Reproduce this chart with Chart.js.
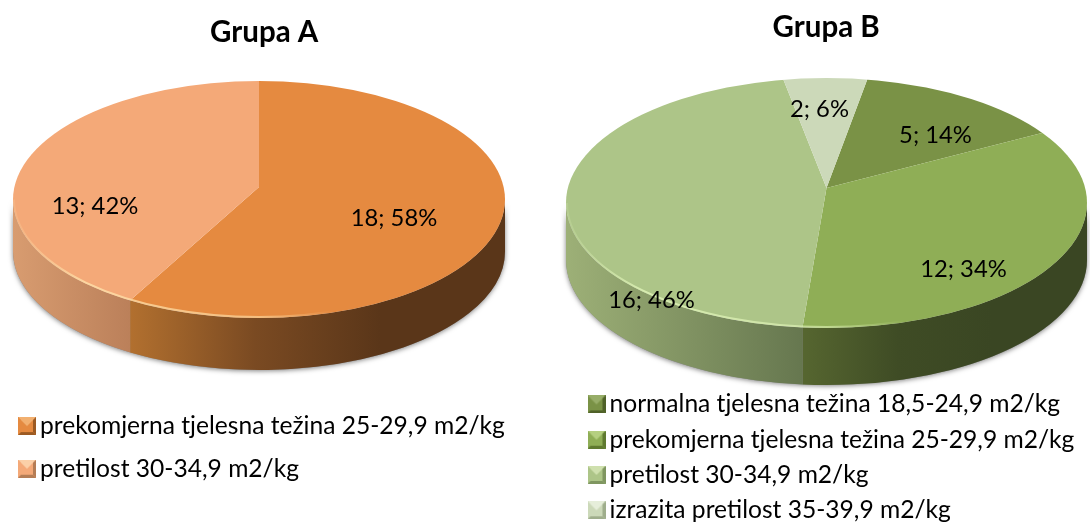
<!DOCTYPE html>
<html>
<head>
<meta charset="utf-8">
<script src="https://cdn.jsdelivr.net/npm/chart.js@4"></script>
<style>
  html, body { margin: 0; background: #fff; overflow: hidden; width: 1090px; height: 523px; }
  canvas { position: absolute; top: 0; }
  #pieA { left: 0; }
  #pieB { left: 545px; }
</style>
</head>
<body>
<canvas id="pieA" width="545" height="540"></canvas>
<canvas id="pieB" width="545" height="540"></canvas>
<script>
const labelsA = ['prekomjerna tjelesna težina 25-29,9 m2/kg', 'pretilost 30-34,9 m2/kg'];
const valuesA = [18, 13];
const colorsA = ['#e58a40', '#f4a978'];

const labelsB = [
  'normalna tjelesna težina 18,5-24,9 m2/kg',
  'prekomjerna tjelesna težina 25-29,9 m2/kg',
  'pretilost 30-34,9 m2/kg',
  'izrazita pretilost 35-39,9 m2/kg',
];
const valuesB = [5, 12, 16, 2];
const colorsB = ['#7a9246', '#8fae56', '#adc588', '#ccd9b9'];

const FONT = 'Lato';

// side wall colours, left to right
const wallsA = [
  ['#b2702f', '#7a4a22', '#5a3619', '#5a3619'],
  ['#d89c70', '#bb805a'],
];
const wallsB = [
  ['#4a5a2a', '#3d4a24'],
  ['#566630', '#3f4c25', '#3a4623', '#3a4623'],
  ['#9db077', '#66774f'],
  ['#ccd9b9', '#ccd9b9'],
];

// where a slice edge leaving the apex meets the outline, as an ellipse angle
function rimAngle(theta, o) {
  const ex = o.sxFront * Math.cos(theta);
  const ey = o.ryFront * Math.sin(theta) / o.re;
  const oy = (o.cy - o.ce) / o.re;
  const A = ex * ex + ey * ey;
  const B = 2 * oy * ey;
  const C = oy * oy - 1;
  const t = (-B + Math.sqrt(B * B - 4 * A * C)) / (2 * A);
  return Math.atan2(oy + t * ey, t * ex);
}

// one half of the disc: slices stay centred on the apex, the outline is a plain ellipse
function halfDisc(chart, ctx, o, rx, y, h, sx, ry) {
  const arc = chart.getDatasetMeta(0).data[0];
  const over = 1.4;
  ctx.beginPath();
  ctx.ellipse(o.cx, o.ce, rx, o.re, 0, 0, Math.PI * 2);
  ctx.clip();
  ctx.beginPath();
  ctx.rect(0, y, chart.width, h);
  ctx.clip();
  ctx.translate(o.cx, o.cy);
  ctx.scale(sx * over, ry / rx * over);
  ctx.translate(-arc.x, -arc.y);
}

const pie3d = {
  id: 'pie3d',
  afterLayout(chart) {
    // legend text runs past the padded box, do not let it get cut
    chart.legend.right = chart.width;
  },
  beforeDatasetsDraw(chart, args, o) {
    const ctx = chart.ctx;
    const arcs = chart.getDatasetMeta(0).data;
    const rx = arcs[0].outerRadius;

    ctx.save();
    ctx.shadowColor = 'rgba(0,0,0,0.5)';
    ctx.shadowBlur = 5;
    ctx.shadowOffsetY = 1;
    ctx.fillStyle = '#888';
    ctx.beginPath();
    ctx.ellipse(o.cx, o.ce, rx, o.re, 0, 0, Math.PI);
    ctx.ellipse(o.cx, o.ce + o.depth, rx, o.re, 0, Math.PI, 0, true);
    ctx.closePath();
    ctx.fill();
    ctx.restore();

    arcs.forEach((arc, i) => {
      [0, 2 * Math.PI].forEach(lo => {
        const s = Math.max(arc.startAngle, lo);
        const e = Math.min(arc.endAngle, lo + Math.PI);
        if (e <= s) return;
        const ps = s === lo ? 0 : Math.max(0, rimAngle(s - lo, o));
        const pe = e === lo + Math.PI ? Math.PI : rimAngle(e - lo, o);
        if (pe <= ps) return;
        const grad = ctx.createLinearGradient(o.cx + rx * Math.cos(pe), 0, o.cx + rx * Math.cos(ps), 0);
        o.walls[i].forEach((c, k, all) => grad.addColorStop(k / (all.length - 1), c));
        ctx.fillStyle = grad;
        ctx.beginPath();
        ctx.ellipse(o.cx, o.ce, rx, o.re, 0, ps, pe);
        ctx.ellipse(o.cx, o.ce + o.depth, rx, o.re, 0, pe, ps, true);
        ctx.closePath();
        ctx.fill();
      });
    });

    // front half is deeper and wider than the back half
    ctx.save();
    halfDisc(chart, ctx, o, rx, o.cy, chart.height, o.sxFront, o.ryFront);
    arcs.forEach(arc => arc.draw(ctx));
    ctx.restore();

    ctx.save();
    halfDisc(chart, ctx, o, rx, 0, o.cy, o.sxBack, o.ryBack);
  },
  afterDatasetsDraw(chart, args, o) {
    const ctx = chart.ctx;
    ctx.restore();
    const arcs = chart.getDatasetMeta(0).data;
    const rx = arcs[0].outerRadius;

    // rim highlight
    const rim = ctx.createLinearGradient(o.cx - rx, 0, o.cx + rx, 0);
    rim.addColorStop(0, o.rim + '0.15)');
    rim.addColorStop(0.15, o.rim + '0.8)');
    rim.addColorStop(0.5, o.rim + '0.6)');
    rim.addColorStop(0.65, o.rim + '0)');
    ctx.strokeStyle = rim;
    ctx.lineWidth = 2;
    ctx.beginPath();
    ctx.ellipse(o.cx, o.ce, rx - 1, o.re - 1, 0, 0, Math.PI);
    ctx.stroke();

    // data labels
    const data = chart.data.datasets[0].data;
    const total = data.reduce((s, v) => s + v, 0);
    ctx.fillStyle = '#000';
    ctx.font = o.labelFont;
    ctx.textAlign = 'center';
    ctx.textBaseline = 'middle';
    data.forEach((v, i) => {
      const text = v + '; ' + Math.round(v / total * 100) + '%';
      ctx.fillText(text, o.cx + o.labelOffsets[i][0], o.cy + o.labelOffsets[i][1]);
    });
  },
};

// little bevelled legend square
function marker(color, dark, light) {
  const c = document.createElement('canvas');
  c.width = 18;
  c.height = 18;
  const g = c.getContext('2d');
  g.fillStyle = color;
  g.fillRect(0, 0, 18, 18);
  const tri = (pts, fill) => {
    g.fillStyle = fill;
    g.beginPath();
    pts.forEach(p => g.lineTo(p[0], p[1]));
    g.closePath();
    g.fill();
  };
  tri([[0, 0], [18, 0], [9, 9]], light);
  tri([[0, 18], [18, 18], [9, 9]], color);
  tri([[0, 0], [0, 18], [3, 15], [3, 3]], color);
  tri([[18, 0], [18, 18], [15, 15], [15, 3]], dark);
  tri([[0, 18], [18, 18], [15, 15], [3, 15]], dark);
  return c;
}

function makePie(id, labels, values, colors, rotation, title, markers, padding, labelPadding, pie) {
  return new Chart(document.getElementById(id), {
    type: 'pie',
    data: {
      labels: labels,
      datasets: [{
        data: values,
        backgroundColor: colors,
        borderWidth: 0,
        clip: false,
      }],
    },
    plugins: [pie3d],
    options: {
      responsive: false,
      animation: false,
      rotation: rotation,
      radius: pie.rx,
      layout: { padding: padding },
      plugins: {
        tooltip: { enabled: false },
        title: {
          display: true,
          text: title,
          color: '#000',
          padding: 0,
          font: { family: FONT, size: 29.5, weight: 'bold' },
        },
        legend: {
          position: 'bottom',
          align: 'start',
          labels: {
            usePointStyle: true,
            pointStyleWidth: 1.4,
            padding: labelPadding,
            color: '#000',
            font: { family: FONT, size: 24.6 },
            generateLabels: chart => labels.map((text, i) => ({
              text: text,
              pointStyle: markers[i],
              datasetIndex: 0,
              index: i,
            })),
          },
        },
        pie3d: pie,
      },
    },
  });
}

makePie('pieA', labelsA, valuesA, colorsA, 0, 'Grupa A',
  [marker('#e58a40', '#9c5a22', '#f2b070'), marker('#f4a978', '#b57d55', '#fbd0a8')],
  { left: 8.3, right: 25, top: 14.5, bottom: 49 }, 18,
  {
    cx: 259, cy: 187, ce: 199.5, re: 118.5, rx: 246, depth: 52,
    ryBack: 106, ryFront: 131, sxBack: 0.9, sxFront: 1.09,
    walls: wallsA, rim: 'rgba(255,225,170,', labelFont: '23.8px ' + FONT,
    labelOffsets: [[135, 31], [-164, 19]],
  });

makePie('pieB', labelsB, valuesB, colorsB, 10, 'Grupa B',
  [marker('#7a9246', '#4f6128', '#97ad68'), marker('#8fae56', '#5f7a30', '#b5cf80'),
   marker('#adc588', '#7f9660', '#cfe0ae'), marker('#ccd9b9', '#9fae8c', '#e6eeda')],
  { left: 40.1, right: 22.8, top: 9.5, bottom: 7.4 }, 10.7,
  {
    cx: 281.5, cy: 188, ce: 203, re: 125, rx: 260.5, depth: 57,
    ryBack: 110, ryFront: 140, sxBack: 0.9, sxFront: 1.09,
    walls: wallsB, rim: 'rgba(225,245,185,', labelFont: '23.8px ' + FONT,
    labelOffsets: [[109, -53], [137, 81], [-175, 112], [-7, -79]],
  });
</script>
</body>
</html>
